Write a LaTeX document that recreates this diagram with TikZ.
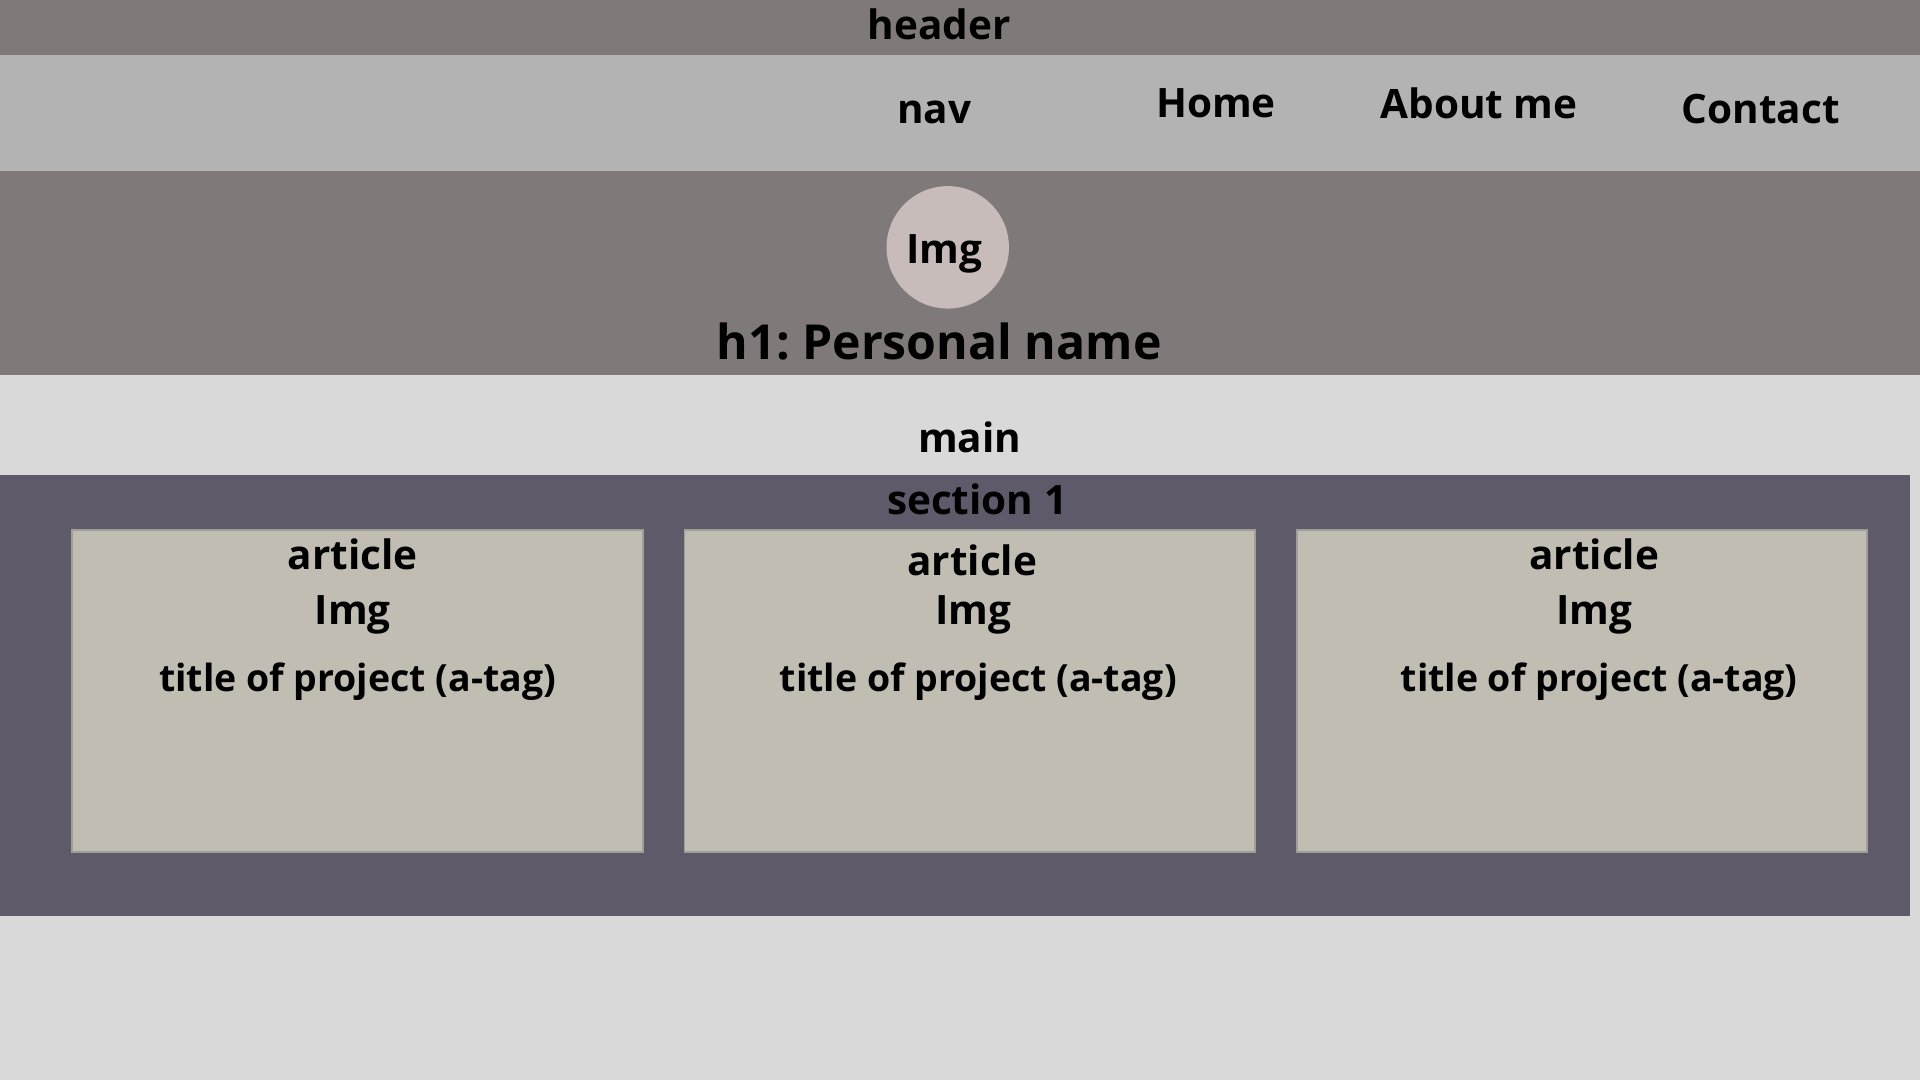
\documentclass[tikz,border=0pt]{standalone}
\usepackage{fontspec}
\setmainfont{Open Sans}[BoldFont={* Bold}]
\frenchspacing
\definecolor{bandgray}{HTML}{7F7979}
\definecolor{navgray}{HTML}{B3B3B3}
\definecolor{maingray}{HTML}{D9D9D9}
\definecolor{sectiongray}{HTML}{5E5A6A}
\definecolor{articlegray}{HTML}{C1BDB2}
\definecolor{imgpink}{HTML}{C8BCBA}
\tikzset{
    label/.style={font=\fontsize{9.4}{11}\selectfont\bfseries, inner sep=0pt},
    titletext/.style={font=\fontsize{8.7}{10}\selectfont\bfseries, inner sep=0pt},
    bigtext/.style={font=\fontsize{11.2}{13}\selectfont\bfseries, inner sep=0pt},
}
\begin{document}
\begin{tikzpicture}[x=0.01cm,y=-0.01cm]
        \useasboundingbox (0,0) rectangle (1568,882);

        %%%%%%%%%% Fasce %%%%%%%%%%
        \fill[maingray] (0,0) rectangle (1568,882);
        \fill[bandgray] (0,0) rectangle (1568,45);
        \fill[navgray] (0,45) rectangle (1568,140);
        \fill[bandgray] (0,140) rectangle (1568,306);
        \fill[sectiongray] (0,388) rectangle (1560,748);

        %%%%%%%%%% Articoli %%%%%%%%%%
        \foreach \x in {59,559,1059}
            \draw[articlegray!50!gray, line width=0.4pt, fill=articlegray] (\x,433) rectangle ++(466,263);

        \fill[imgpink] (774,202) circle (50);

        %%%%%%%%% Testo %%%%%%%%%%
        \node[label] (header) at (767,20) {header};
        \node[label] (nav) at (763,92) {nav};
        \node[label] (home) at (993,84) {Home};
        \node[label] (about) at (1208,84) {About me};
        \node[label] (contact) at (1438,89) {Contact};
        \node[label] (img) at (771,207) {Img};
        \node[bigtext] (h1) at (767,279) {h1: Personal name};
        \node[label] (main) at (792,357) {main};
        \node[label] (section) at (798,408) {section 1};

        \node[label] (art1) at (288,453) {article};
        \node[label] (art2) at (794,458) {article};
        \node[label] (art3) at (1302,453) {article};
        \node[label] (img1) at (288,502) {Img};
        \node[label] (img2) at (795,502) {Img};
        \node[label] (img3) at (1302,502) {Img};
        \node[titletext] (title1) at (292,557) {title of project (a-tag)};
        \node[titletext] (title2) at (799,557) {title of project (a-tag)};
        \node[titletext] (title3) at (1306,557) {title of project (a-tag)};
    \end{tikzpicture}
\end{document}
